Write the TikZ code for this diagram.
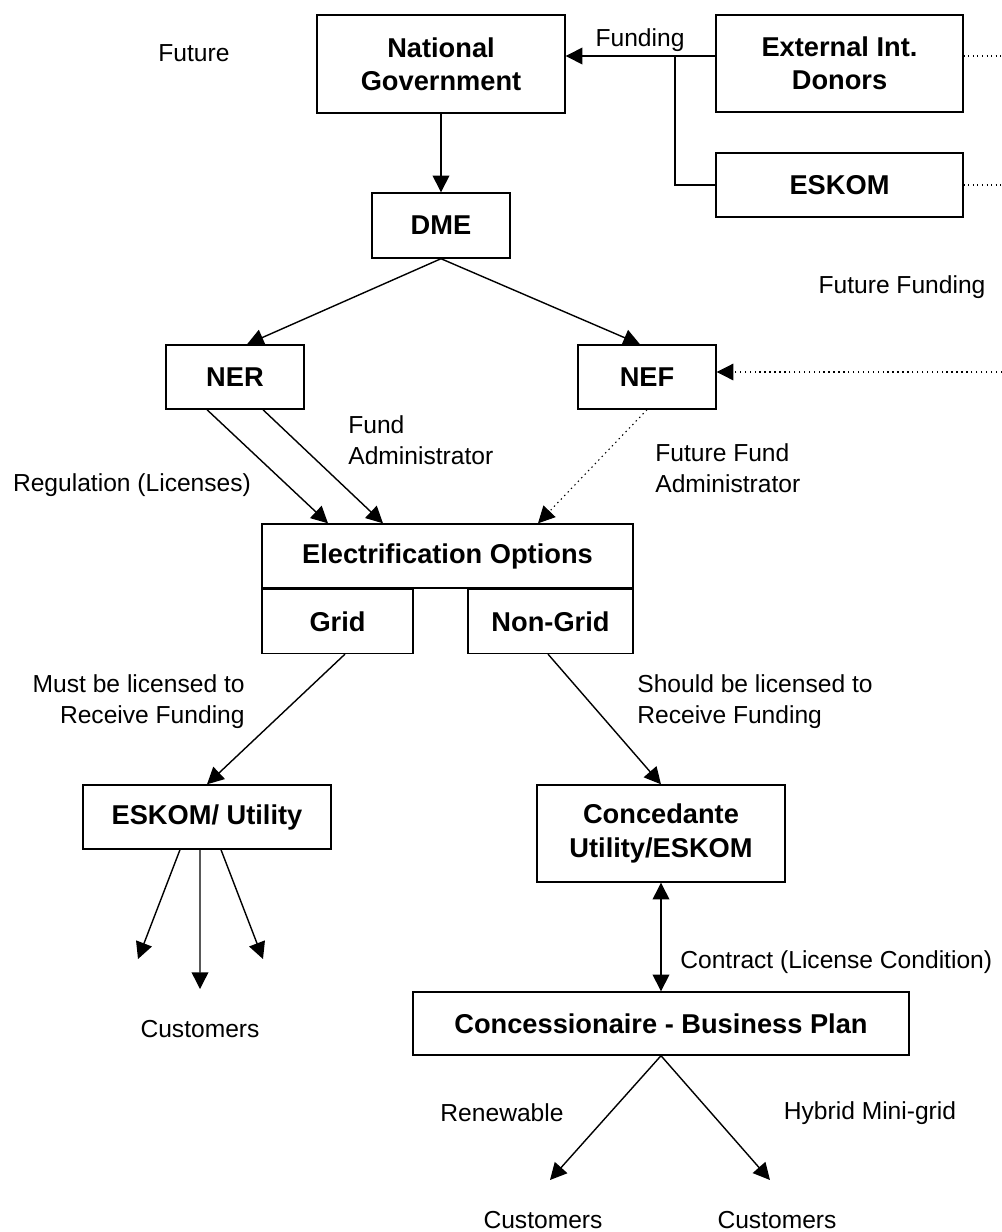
\documentclass[tikz,border=0pt]{standalone}
\usepackage{fontspec}
\setmainfont{Liberation Sans}
\usetikzlibrary{arrows.meta,positioning}
\tikzset{
    box/.style={draw,line width=0.8pt,font=\fontsize{15.5}{19}\selectfont\bfseries,align=center,inner sep=0pt},
    lbl/.style={align=left,inner sep=0pt},
    pre/.style={-{Triangle[length=9.5pt,width=9.5pt]},line width=0.8pt},
    both/.style={{Triangle[length=9.5pt,width=9.5pt]}-{Triangle[length=9.5pt,width=9.5pt]},line width=0.8pt},
    fut/.style={dotted,line width=0.6pt}
}

\begin{document}
\begin{tikzpicture}[font=\fontsize{14}{17.5}\selectfont]
    \useasboundingbox (0,0) rectangle (20.04,-24.64);
    % boxes
    \node[box,minimum width=4.96cm,minimum height=1.96cm] (natgov) at (8.82,-1.28) {National\\Government};
    \node[box,minimum width=4.94cm,minimum height=1.94cm] (donors) at (16.79,-1.27) {External Int.\\Donors};
    \node[box,minimum width=4.94cm,minimum height=1.28cm] (eskom) at (16.79,-3.70) {ESKOM};
    \node[box,minimum width=2.76cm,minimum height=1.3cm] (dme) at (8.82,-4.51) {DME};
    \node[box,minimum width=2.76cm,minimum height=1.28cm] (ner) at (4.70,-7.54) {NER};
    \node[box,minimum width=2.76cm,minimum height=1.28cm] (nef) at (12.94,-7.54) {NEF};
    \node[box,minimum width=7.42cm,minimum height=1.28cm] (elec) at (8.95,-11.12) {Electrification Options};
    \node[box,minimum width=3.02cm,minimum height=1.28cm,anchor=north west] (grid) at (elec.south west) {Grid};
    \node[box,minimum width=3.3cm,minimum height=1.28cm,anchor=north east] (nongrid) at (elec.south east) {Non-Grid};
    \node[box,minimum width=4.96cm,minimum height=1.28cm] (utility) at (4.14,-16.34) {ESKOM/ Utility};
    \node[box,minimum width=4.96cm,minimum height=1.94cm] (concedante) at (13.22,-16.67) {Concedante\\Utility/ESKOM};
    \node[box,minimum width=9.92cm,minimum height=1.26cm] (concess) at (13.22,-20.47) {Concessionaire - Business Plan};

    % free ends
    \coordinate (fj) at (13.5,-1.12);
    \coordinate (edge1) at (20.04,-1.12);
    \coordinate (edge2) at (20.04,-7.44);
    \coordinate (cust1) at (2.76,-19.18);
    \coordinate (cust2) at (4.0,-19.78);
    \coordinate (cust3) at (5.26,-19.18);
    \coordinate (cust4) at (11.0,-23.6);
    \coordinate (cust5) at (15.4,-23.6);

    % labels
    \node[lbl] (future) at (3.88,-1.06) {Future};
    \node[lbl] (funding) at (12.8,-0.8) {Funding};
    \node[lbl] (futfund) at (18.04,-5.74) {Future Funding};
    \node[lbl] (regul) at (2.64,-9.7) {Regulation (Licenses)};
    \node[lbl,anchor=west] (fundadm) at (6.96,-8.8) {Fund\\Administrator};
    \node[lbl,anchor=west] (futadm) at (13.1,-9.36) {Future Fund\\Administrator};
    \node[lbl,align=right,anchor=east] (must) at (4.9,-14.03) {Must be licensed to\\Receive Funding};
    \node[lbl,anchor=west] (should) at (12.74,-14.03) {Should be licensed to\\Receive Funding};
    \node[lbl,anchor=west] (contract) at (13.6,-19.24) {Contract (License Condition)};
    \node[lbl] (customers1) at (4.0,-20.58) {Customers};
    \node[lbl] (renew) at (10.04,-22.26) {Renewable};
    \node[lbl] (hybrid) at (17.4,-22.26) {Hybrid Mini-grid};
    \node[lbl] (customers2) at (10.86,-24.4) {Customers};
    \node[lbl] (customers3) at (15.54,-24.4) {Customers};

    % connectors
    \draw[pre] (donors.west |- fj) -- (natgov.east |- fj);
    \draw[line width=0.8pt] (fj) |- (eskom.west);
    \draw[fut] (donors.east |- edge1) -- (edge1);
    \draw[fut] (eskom.east) -- (eskom.east -| edge1);
    \draw[pre] (natgov) -- (dme);
    \draw[pre] (dme.south) -- ([xshift=0.24cm]ner.north);
    \draw[pre] (dme.south) -- ([xshift=-0.14cm]nef.north);
    \draw[pre,fut] (edge2) -- (nef.east |- edge2);
    \draw[pre] ([xshift=-0.56cm]ner.south) -- ([xshift=-2.39cm]elec.north);
    \draw[pre] ([xshift=0.56cm]ner.south) -- ([xshift=-1.29cm]elec.north);
    \draw[pre,fut] (nef.south) -- ([xshift=1.81cm]elec.north);
    \draw[pre] ([xshift=0.15cm]grid.south) -- (utility.north);
    \draw[pre] ([xshift=-0.05cm]nongrid.south) -- (concedante.north);
    \draw[pre] ([xshift=-0.54cm]utility.south) -- (cust1);
    \draw[pre] ([xshift=-0.14cm]utility.south) -- (cust2);
    \draw[pre] ([xshift=0.28cm]utility.south) -- (cust3);
    \draw[both] (concedante.south) -- (concess.north);
    \draw[pre] (concess.south) -- (cust4);
    \draw[pre] (concess.south) -- (cust5);
\end{tikzpicture}
\end{document}
